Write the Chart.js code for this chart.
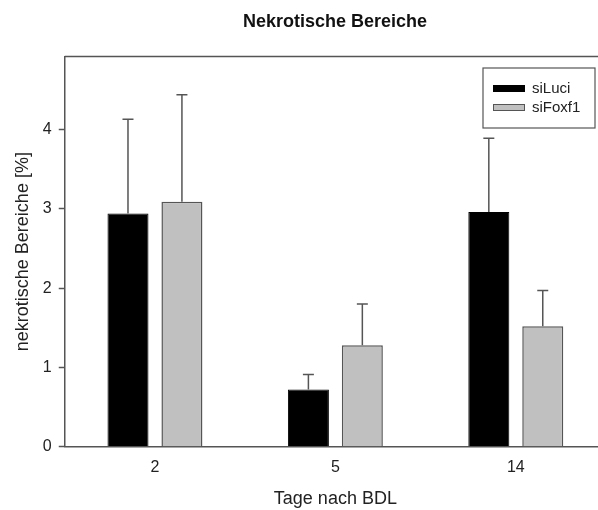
<!DOCTYPE html>
<html>
<head>
<meta charset="utf-8">
<script src="https://cdn.jsdelivr.net/npm/chart.js@4"></script>
<style>
    html, body { margin: 0; padding: 0; background: #fff; overflow: hidden; }
    #wrap { width: 670px; height: 510px; }
</style>
</head>
<body>
<div id="wrap"><canvas id="graph"></canvas></div>
<script>
// Tage nach BDL
var days = ["2", "5", "14"];
var seriesNames = ["siLuci", "siFoxf1"];
var siLuci = [2.94, 0.72, 2.96];
var siFoxf1 = [3.09, 1.28, 1.52];
// upper error bars (SEM)
var siLuciErr = [1.19, 0.19, 0.93];
var siFoxf1Err = [1.35, 0.52, 0.45];
var yTicks = [0, 1, 2, 3, 4];

var FONT = "'Liberation Sans', Arial, sans-serif";
var LINE = "#555";

// Error bars above each bar, drawn through the y scale
var errorBars = {
    id: "errorBars",
    afterDatasetsDraw: (chart) => {
        var ctx = chart.ctx;
        var yScale = chart.scales.y;
        ctx.save();
        ctx.strokeStyle = LINE;
        ctx.lineWidth = 1.5;
        chart.data.datasets.forEach((ds, di) => {
            var meta = chart.getDatasetMeta(di);
            meta.data.forEach((bar, i) => {
                var top = yScale.getPixelForValue(ds.data[i] + ds.errors[i]);
                var x = bar.x;
                ctx.beginPath();
                ctx.moveTo(x, bar.y);
                ctx.lineTo(x, top);
                ctx.moveTo(x - 5.5, top);
                ctx.lineTo(x + 5.5, top);
                ctx.stroke();
            });
        });
        ctx.restore();
    }
};

// Top frame line and boxed legend
var frame = {
    id: "frame",
    afterDraw: (chart) => {
        var ctx = chart.ctx;
        var area = chart.chartArea;
        ctx.save();
        ctx.strokeStyle = LINE;
        ctx.lineWidth = 1.5;
        ctx.beginPath();
        ctx.moveTo(area.left, area.top);
        ctx.lineTo(area.right, area.top);
        ctx.stroke();

        var bx = 483, by = 68, bw = 112, bh = 60;
        ctx.lineWidth = 1.2;
        ctx.fillStyle = "#fff";
        ctx.fillRect(bx, by, bw, bh);
        ctx.strokeRect(bx, by, bw, bh);

        ctx.font = "15px " + FONT;
        ctx.textBaseline = "middle";
        chart.data.datasets.forEach((ds, i) => {
            var sy = by + 17 + i * 19;
            ctx.fillStyle = ds.backgroundColor;
            ctx.fillRect(bx + 10, sy, 32, 7);
            ctx.strokeStyle = ds.borderColor;
            ctx.lineWidth = 1;
            ctx.strokeRect(bx + 10.5, sy + 0.5, 31, 6);
            ctx.fillStyle = "#222";
            ctx.fillText(ds.label, bx + 49, sy + 4);
        });
        ctx.restore();
    }
};

new Chart(document.getElementById("graph").getContext("2d"), {
    type: "bar",
    data: {
        labels: days,
        datasets: [{
            label: seriesNames[0],
            data: siLuci,
            errors: siLuciErr,
            backgroundColor: "#000000",
            borderColor: "#000000",
            borderWidth: 1
        }, {
            label: seriesNames[1],
            data: siFoxf1,
            errors: siFoxf1Err,
            backgroundColor: "#c0c0c0",
            borderColor: "#555555",
            borderWidth: 1.5
        }]
    },
    options: {
        responsive: true,
        maintainAspectRatio: false,
        animation: false,
        categoryPercentage: 0.598,
        barPercentage: 0.76,
        plugins: {
            legend: { display: false },
            tooltip: { enabled: false },
            title: {
                display: true,
                text: "Nekrotische Bereiche",
                color: "#111",
                font: { family: FONT, size: 18, weight: "bold" },
                padding: { top: 11, bottom: 24 }
            }
        },
        scales: {
            x: {
                afterFit: (scale) => { scale.height = 63.3; },
                grid: { display: false },
                border: { display: true, color: LINE, width: 1.5 },
                ticks: { color: "#222", padding: 3, font: { family: FONT, size: 16 } },
                title: {
                    display: true,
                    text: "Tage nach BDL",
                    color: "#222",
                    font: { family: FONT, size: 18 },
                    padding: { top: 0, bottom: 0 }
                }
            },
            y: {
                min: 0,
                max: 4.92,
                afterBuildTicks: (scale) => {
                    scale.ticks = yTicks.map((v) => ({ value: v }));
                },
                afterFit: (scale) => { scale.width = 64.75; },
                grid: {
                    drawOnChartArea: false,
                    drawTicks: true,
                    tickLength: 6,
                    tickColor: LINE,
                    tickWidth: 1.5
                },
                border: { display: true, color: LINE, width: 1.5 },
                ticks: { color: "#222", padding: 7, font: { family: FONT, size: 16 } },
                title: {
                    display: true,
                    text: "nekrotische Bereiche [%]",
                    color: "#222",
                    font: { family: FONT, size: 18 },
                    padding: { top: 12, bottom: 0 }
                }
            },
            // empty right axis, only reserves the space past the frame edge
            yRight: {
                position: "right",
                afterFit: (scale) => { scale.width = 64; },
                grid: { display: false },
                border: { display: false },
                ticks: { display: false }
            }
        }
    },
    plugins: [errorBars, frame]
});
</script>
</body>
</html>
